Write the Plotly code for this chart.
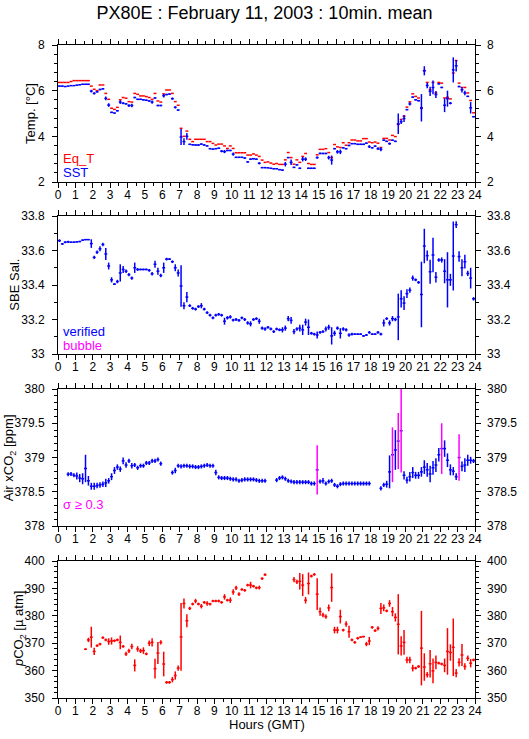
import plotly.graph_objects as go

# ---------------- data (10-minute bins, 144 per day) ----------------
N_BINS = 144
hours = [(k + 0.5) / 6 for k in range(N_BINS)]
HALF_BIN = 1 / 12  # +-5 minutes

eq_t = [
    6.36, 6.36, 6.36, 6.36, 6.40, 6.44,
    6.44, 6.44, 6.44, 6.44, 6.44, 6.20,
    6.06, 6.00, 6.25, 6.25, 5.88, 5.62,
    5.23, 5.18, 5.27, 5.60, 5.70, 5.67,
    5.52, 5.50, 5.88, 5.84, 5.77, 5.77,
    5.74, 5.70, 5.62, 5.88, 5.55, 5.50,
    5.86, 6.03, 6.03, 5.88, 5.52, 5.36,
    4.35, 4.00, 4.23, 3.87, 3.77, 3.87,
    3.87, 3.87, 3.87, 3.77, 3.77, 3.69,
    3.62, 3.66, 3.66, 3.58, 3.47, 3.58,
    3.47, 3.28, 3.28, 3.28, 3.28, 3.18,
    3.18, 3.23, 3.18, 3.12, 2.96, 2.86,
    2.88, 2.83, 2.78, 2.81, 2.77, 2.77,
    2.97, 3.29, 3.07, 2.78, 2.97, 2.86,
    3.12, 3.25, 2.81, 2.77, 2.77, 3.19,
    3.43, 3.43, 3.46, 3.29, 3.07, 3.64,
    3.54, 3.51, 3.72, 3.61, 3.72, 3.84,
    3.84, 3.80, 3.80, 3.90, 3.90, 3.75,
    3.72, 3.75, 3.70, 3.51, 3.91, 3.91,
    3.84, 4.04, 3.99, 4.52, 4.74, 4.88,
    5.28, 5.51, 5.86, 5.75, 5.68, 5.22,
    6.88, 6.36, 6.04, 6.36, 5.90, 6.36,
    6.33, 5.68, 5.71, 5.64, 6.77, 7.32,
    6.33, 6.14, 6.14, 5.90, 5.57, 5.03,
]

sst = [
    6.20, 6.20, 6.18, 6.20, 6.22, 6.22,
    6.24, 6.26, 6.28, 6.28, 6.28, 5.98,
    5.88, 5.95, 6.05, 6.08, 5.66, 5.37,
    5.05, 5.02, 5.12, 5.50, 5.45, 5.42,
    5.35, 5.35, 5.70, 5.62, 5.62, 5.60,
    5.58, 5.55, 5.50, 5.68, 5.35, 5.35,
    5.78, 5.83, 5.85, 5.65, 5.27, 5.15,
    3.97, 3.77, 4.00, 3.65, 3.63, 3.62,
    3.62, 3.66, 3.62, 3.58, 3.46, 3.44,
    3.46, 3.48, 3.35, 3.33, 3.38, 3.38,
    3.22, 3.08, 3.08, 3.08, 3.05, 2.88,
    3.00, 3.02, 3.00, 2.82, 2.63, 2.63,
    2.62, 2.60, 2.58, 2.58, 2.54, 2.52,
    2.78, 3.07, 2.86, 2.64, 2.75, 2.60,
    3.00, 3.00, 2.60, 2.60, 2.60, 3.07,
    3.25, 3.25, 3.25, 3.07, 2.96, 3.46,
    3.32, 3.32, 3.50, 3.46, 3.60, 3.68,
    3.68, 3.65, 3.65, 3.65, 3.70, 3.55,
    3.50, 3.57, 3.46, 3.43, 3.83, 3.78,
    3.68, 3.83, 3.78, 4.55, 4.64, 4.78,
    5.17, 5.42, 5.72, 5.60, 5.56, 5.25,
    6.87, 6.23, 5.97, 6.14, 5.83, 6.30,
    6.14, 5.36, 5.65, 5.45, 6.91, 7.09,
    6.18, 6.04, 5.90, 5.75, 5.25, 4.86,
]

sst_err = [
    .02, .02, .02, .02, .02, .02,
    .02, .02, .02, .02, .02, .06,
    .05, .03, .03, .03, .08, .08,
    .03, .02, .03, .08, .04, .03,
    .06, .08, .03, .03, .03, .03,
    .03, .03, .07, .03, .03, .03,
    .08, .03, .03, .05, .05, .03,
    .35, .15, .15, .03, .03, .03,
    .03, .03, .03, .03, .03, .03,
    .03, .03, .05, .07, .03, .03,
    .07, .03, .03, .03, .03, .03,
    .03, .03, .03, .05, .03, .03,
    .02, .02, .02, .02, .02, .03,
    .10, .03, .12, .03, .03, .03,
    .10, .08, .03, .03, .03, .05,
    .04, .03, .03, .08, .20, .03,
    .08, .10, .03, .03, .03, .03,
    .03, .03, .03, .03, .03, .06,
    .03, .03, .06, .08, .03, .03,
    .05, .03, .03, .45, .10, .15,
    .03, .07, .03, .03, .03, .60,
    .20, .12, .20, .30, .15, .03,
    .03, .30, .35, .05, .55, .25,
    .03, .12, .10, .03, .25, .03,
]

sal = [
    33.657, 33.638, 33.648, 33.650, 33.648, 33.648,
    33.650, 33.652, 33.660, 33.663, 33.663, 33.640,
    33.560, 33.590, 33.610, 33.635, 33.580, 33.510,
    33.430, 33.405, 33.420, 33.470, 33.490, 33.480,
    33.460, 33.440, 33.500, 33.490, 33.490, 33.490,
    33.490, 33.485, 33.465, 33.520, 33.480, 33.455,
    33.500, 33.550, 33.550, 33.535, 33.500, 33.470,
    33.394, 33.280, 33.330, 33.280, 33.265, 33.260,
    33.275, 33.280, 33.260, 33.240, 33.225, 33.210,
    33.225, 33.230, 33.225, 33.190, 33.210, 33.215,
    33.197, 33.200, 33.195, 33.210, 33.200, 33.180,
    33.175, 33.200, 33.205, 33.190, 33.150, 33.145,
    33.155, 33.145, 33.130, 33.145, 33.140, 33.140,
    33.150, 33.205, 33.195, 33.130, 33.145, 33.150,
    33.140, 33.185, 33.155, 33.120, 33.115, 33.110,
    33.125, 33.130, 33.145, 33.155, 33.105, 33.120,
    33.150, 33.120, 33.145, 33.140, 33.110, 33.115,
    33.115, 33.115, 33.115, 33.105, 33.110, 33.125,
    33.115, 33.115, 33.125, 33.115, 33.180, 33.205,
    33.180, 33.205, 33.200, 33.215, 33.320, 33.295,
    33.350, 33.370, 33.440, 33.430, 33.415, 33.345,
    33.626, 33.570, 33.477, 33.574, 33.445, 33.545,
    33.545, 33.480, 33.430, 33.430, 33.568, 33.750,
    33.565, 33.500, 33.535, 33.467, 33.440, 33.320,
]

sal_err = [
    .008, .005, .006, .006, .004, .004,
    .004, .004, .004, .003, .003, .025,
    .010, .010, .015, .010, .035, .020,
    .015, .005, .010, .050, .020, .010,
    .010, .010, .030, .008, .005, .005,
    .005, .008, .010, .020, .020, .010,
    .030, .008, .005, .008, .020, .020,
    .120, .020, .030, .008, .008, .008,
    .008, .015, .008, .008, .008, .008,
    .008, .008, .008, .020, .010, .010,
    .008, .008, .008, .008, .008, .010,
    .015, .008, .008, .015, .010, .010,
    .008, .008, .008, .008, .008, .015,
    .015, .015, .020, .015, .010, .020,
    .030, .020, .045, .008, .008, .020,
    .008, .008, .015, .015, .050, .015,
    .010, .030, .010, .010, .010, .008,
    .005, .005, .005, .005, .005, .008,
    .005, .005, .008, .008, .020, .008,
    .015, .015, .010, .135, .050, .040,
    .025, .015, .015, .008, .008, .190,
    .100, .030, .070, .100, .030, .010,
    .015, .070, .160, .035, .200, .020,
    .030, .050, .040, .015, .060, .010,
]

xco2 = [
    None, None, None, 378.755, 378.76, 378.74,
    378.73, 378.70, 378.69, 378.84, 378.66, 378.58,
    378.58, 378.59, 378.60, 378.61, 378.63, 378.66,
    378.72, 378.81, 378.86, 378.83, 378.95, 378.89,
    378.95, 378.88, 378.89, 378.85, 378.88, 378.88,
    378.92, 378.92, 378.95, 378.95, 378.97, 378.91,
    None, None, None, 378.78, 378.81, 378.88,
    378.87, 378.88, 378.88, 378.87, 378.87, 378.86,
    378.86, 378.87, 378.88, 378.89, 378.88, 378.88,
    378.78, 378.71, 378.70, 378.70, 378.70, 378.69,
    378.68, 378.68, 378.66, 378.67, 378.68, 378.68,
    378.68, 378.68, 378.67, 378.66, 378.66, 378.66,
    None, None, None, 378.67, 378.70, 378.71,
    378.69, 378.66, 378.65, 378.64, 378.64, 378.64,
    378.64, 378.64, 378.64, 378.62, 378.62, 378.82,
    378.65, 378.66, 378.62, 378.65, 378.66, 378.60,
    378.58, 378.61, 378.62, 378.62, 378.62, 378.62,
    378.62, 378.62, 378.62, 378.62, 378.62, 378.62,
    None, None, None, 378.55, 378.60, 378.61,
    378.79, 379.04, 379.11, 379.24, 379.39, 378.74,
    378.67, 378.72, 378.78, 378.74, 378.74, 378.79,
    378.86, 378.82, 378.76, 378.85, 378.89, 379.04,
    379.13, 379.13, 378.96, 378.82, 378.80, 378.72,
    379.00, 378.87, 378.89, 378.96, 378.96, 378.95,
]

xco2_sigma = [
    0, 0, 0, .03, .03, .03,
    .05, .06, .08, .20, .07, .05,
    .05, .04, .04, .04, .06, .04,
    .05, .05, .04, .04, .05, .04,
    .03, .04, .03, .03, .03, .03,
    .03, .03, .03, .03, .03, .03,
    0, 0, 0, .03, .04, .03,
    .03, .03, .03, .03, .03, .03,
    .03, .03, .03, .03, .03, .03,
    .04, .03, .03, .03, .03, .03,
    .03, .03, .03, .03, .03, .03,
    .03, .03, .03, .03, .03, .03,
    0, 0, 0, .03, .03, .03,
    .03, .03, .03, .03, .03, .03,
    .03, .03, .03, .03, .03, .36,
    .03, .04, .03, .03, .03, .03,
    .03, .03, .03, .03, .03, .03,
    .03, .03, .03, .03, .03, .03,
    0, 0, 0, .03, .03, .05,
    .24, .40, .29, .41, .61, .06,
    .05, .07, .08, .05, .05, .07,
    .10, .10, .12, .10, .10, .10,
    .37, .12, .10, .08, .06, .05,
    .34, .07, .10, .08, .05, .03,
]

pco2 = [
    None, None, None, None, None, None,
    None, None, None, 367.8, 371.2, 372.2,
    367.0, 369.1, 369.7, 372.0, 371.2, 370.6,
    370.8, 370.9, 371.2, 370.3, 368.8, 366.1,
    367.2, 368.8, 361.9, 367.9, 367.2, 367.3,
    366.1, 370.0, 370.3, 360.7, 366.4, 370.3,
    362.4, 355.7, 355.7, 356.7, 358.2, 360.9,
    372.3, 384.5, 378.2, 382.7, 384.3, 385.4,
    384.3, 383.5, 384.9, 384.5, 384.3, 385.4,
    385.4, 385.4, 384.9, 386.9, 385.7, 385.7,
    388.7, 390.2, 387.9, 389.6, 389.3, 391.2,
    391.2, 390.8, 390.2, 390.3, 393.6, 395.0,
    None, None, None, None, None, None,
    None, None, None, 393.2, 392.4, 392.6,
    391.2, 385.7, 391.8, 394.5, 395.1, 387.9,
    381.5, 380.3, 379.7, 382.9, 390.3, 374.8,
    374.8, 379.7, 374.8, 377.0, 374.2, 371.2,
    370.3, 371.8, 372.2, 372.4, 369.7, 370.8,
    375.8, 374.6, 375.4, 382.7, 382.9, 381.8,
    384.5, 381.5, 379.4, 376.9, 369.0, 370.3,
    363.9, 363.9, 360.9, 360.9, 361.5, 368.2,
    361.3, 358.5, 362.5, 359.9, 363.0, 362.7,
    362.4, 361.9, 367.0, 366.6, 368.5, 359.1,
    363.0, 365.7, 361.5, 364.5, 362.7, 363.9,
]

pco2_err = [
    0, 0, 0, 0, 0, 0,
    0, 0, 0, .3, .8, 3.8,
    1.3, .5, .5, .5, .5, 1.2,
    1.3, .5, .5, 2.5, .5, .8,
    .8, 1.0, 2.2, 1.0, .8, 1.2,
    .5, 1.0, 1.5, 3.6, 4.0, .8,
    4.5, .5, .5, 1.0, 1.5, 1.0,
    12.4, 1.8, 2.4, .6, .5, .8,
    .5, .8, .5, .8, .5, .5,
    .5, .5, .5, 1.0, .5, 1.0,
    1.0, .8, .7, .5, .5, .5,
    1.2, .5, .5, .7, .5, .5,
    0, 0, 0, 0, 0, 0,
    0, 0, 0, 1.0, .8, 3.0,
    4.0, 1.2, 4.0, .5, .5, 5.8,
    1.5, .8, .8, 1.2, 5.2, 1.2,
    1.2, 2.5, .5, 1.0, 2.2, .5,
    .5, .5, .3, .3, .8, 1.5,
    .5, .5, .8, 2.0, 1.2, .5,
    1.2, 1.7, 1.5, 11.0, 3.5, 4.5,
    1.2, 1.2, 1.2, .5, .5, 13.6,
    5.0, 1.0, 5.0, 4.5, 2.5, .5,
    .5, 2.5, 8.5, 3.0, 10.5, 1.5,
    1.5, 4.0, 1.2, 1.0, 1.5, .5,
]

SIGMA_LIMIT = 0.3
hour_ticks = list(range(0, 25))

# ---------------- styling ----------------
RED = "#ff0000"
BLUE = "#0000ff"
MAGENTA = "#ff00ff"
FONT = "Liberation Sans, Arial, Helvetica, sans-serif"
LW = 1.5

W, H = 529, 739
ML, MR, MT, MB = 58, 48, 45, 41
plot_h = H - MT - MB
plot_w = W - ML - MR


def dom(top_px, bot_px):
    return [(H - MB - bot_px) / plot_h, (H - MB - top_px) / plot_h]


def px_x(px):
    return (px - ML) / plot_w


def px_y(px):
    return (H - MB - px) / plot_h


panels = [
    dict(top=45, bot=182, rng=[2, 8], dtick=2, minor=0.4,
         title="Temp. [°C]", tx=30),
    dict(top=216, bot=354, rng=[33, 33.8], dtick=0.2, minor=0.1,
         title="SBE Sal.", tx=13),
    dict(top=389, bot=526, rng=[378, 380], dtick=0.5, minor=0.1,
         title="Air xCO<sub>2</sub> [ppm]", tx=9),
    dict(top=561, bot=698, rng=[350, 400], dtick=10, minor=2,
         title="<i>p</i>CO<sub>2</sub> [µ atm]", tx=19),
]

fig = go.Figure()


def bars(y, err, color, idx, show_x=True):
    xa = "x" if idx == 1 else f"x{idx}"
    ya = "y" if idx == 1 else f"y{idx}"
    ey = dict(visible=False)
    if err is not None:
        ey = dict(type="data", array=err, visible=True, color=color,
                  thickness=LW, width=0)
    ex = dict(visible=False)
    if show_x:
        ex = dict(type="constant", value=HALF_BIN, visible=True,
                  color=color, thickness=LW, width=0)
    fig.add_trace(go.Scatter(
        x=hours, y=y, mode="markers",
        marker=dict(size=0, color="rgba(0,0,0,0)"),
        error_x=ex, error_y=ey, xaxis=xa, yaxis=ya,
        hoverinfo="skip", showlegend=False))


# panel 1: temperatures
bars(eq_t, None, RED, 1)
bars(sst, sst_err, BLUE, 1)
# panel 2: salinity (all verified)
bars(sal, sal_err, BLUE, 2)
# panel 3: air xCO2, sigma >= 0.3 drawn in magenta
err_ok = [s if s < SIGMA_LIMIT else 0 for s in xco2_sigma]
y_hi = [v if (v is not None and s >= SIGMA_LIMIT) else None
        for v, s in zip(xco2, xco2_sigma)]
err_hi = [s if s >= SIGMA_LIMIT else 0 for s in xco2_sigma]
bars(xco2, err_ok, BLUE, 3)
bars(y_hi, err_hi, MAGENTA, 3, show_x=False)
# panel 4: pCO2
bars(pco2, pco2_err, RED, 4)

axis_common = dict(
    showline=True, linecolor="black", linewidth=1, mirror="ticks",
    ticks="outside", ticklen=5, tickwidth=1, tickcolor="black",
    showgrid=False, zeroline=False,
    tickfont=dict(family=FONT, size=12, color="black"),
)

layout = dict(
    width=W, height=H,
    margin=dict(l=ML, r=MR, t=MT, b=MB),
    paper_bgcolor="white", plot_bgcolor="white",
    font=dict(family=FONT, color="black"),
    title=dict(text="PX80E : February 11, 2003 : 10min. mean",
               x=0.5, xanchor="center", y=1 - 13 / H, yanchor="middle",
               font=dict(family=FONT, size=18, color="black")),
    showlegend=False,
)

for i, p in enumerate(panels, start=1):
    xk = "xaxis" if i == 1 else f"xaxis{i}"
    yk = "yaxis" if i == 1 else f"yaxis{i}"
    ya = "y" if i == 1 else f"y{i}"
    xa = "x" if i == 1 else f"x{i}"
    layout[xk] = dict(
        axis_common, domain=[0, 1], anchor=ya, range=[0, 24],
        tickmode="array", tickvals=hour_ticks, tickangle=0,
        ticklabelstandoff=-3,
        minor=dict(dtick=0.5, tick0=0, ticklen=3, ticks="outside",
                   tickcolor="black", showgrid=False),
    )
    layout[yk] = dict(
        axis_common, domain=dom(p["top"], p["bot"]), anchor=xa,
        range=p["rng"], tick0=p["rng"][0], dtick=p["dtick"],
        ticklabelstandoff=5,
        minor=dict(dtick=p["minor"], tick0=p["rng"][0], ticklen=3,
                   ticks="outside", tickcolor="black", showgrid=False),
    )
    rk = f"yaxis{i + 4}"
    layout[rk] = dict(
        overlaying=ya, side="right", anchor=xa, range=p["rng"],
        tick0=p["rng"][0], dtick=p["dtick"], showline=False, ticks="",
        showgrid=False, zeroline=False, ticklabelstandoff=11,
        tickfont=dict(family=FONT, size=12, color="black"),
    )
    fig.add_trace(go.Scatter(
        x=[None], y=[None], xaxis=xa, yaxis=f"y{i + 4}", mode="markers",
        marker=dict(size=0), hoverinfo="skip", showlegend=False))

fig.update_layout(**layout)

# y-axis titles
for p in panels:
    fig.add_annotation(xref="paper", yref="paper", x=px_x(p["tx"]),
                       y=px_y((p["top"] + p["bot"]) / 2), text=p["title"],
                       textangle=-90, showarrow=False, xanchor="center",
                       yanchor="middle",
                       font=dict(family=FONT, size=13, color="black"))

legend_items = [
    ("x domain", "y domain", 0.175, "Eq_T", RED),
    ("x domain", "y domain", 0.066, "SST", BLUE),
    ("x2 domain", "y2 domain", 0.16, "verified", BLUE),
    ("x2 domain", "y2 domain", 0.065, "bubble", MAGENTA),
    ("x3 domain", "y3 domain", 0.155, "σ ≥ 0.3", MAGENTA),
]
for xr, yr, yy, txt, col in legend_items:
    fig.add_annotation(xref=xr, yref=yr, x=0.006, y=yy, text=txt,
                       showarrow=False, xanchor="left", yanchor="middle",
                       font=dict(family=FONT, size=13, color=col))

fig.add_annotation(xref="paper", yref="paper", x=0.5, y=px_y(724),
                   text="Hours (GMT)", showarrow=False, xanchor="center",
                   yanchor="middle",
                   font=dict(family=FONT, size=13, color="black"))

fig.write_html("out.html", config={"displayModeBar": False},
               post_script="document.body.style.margin='0';")
